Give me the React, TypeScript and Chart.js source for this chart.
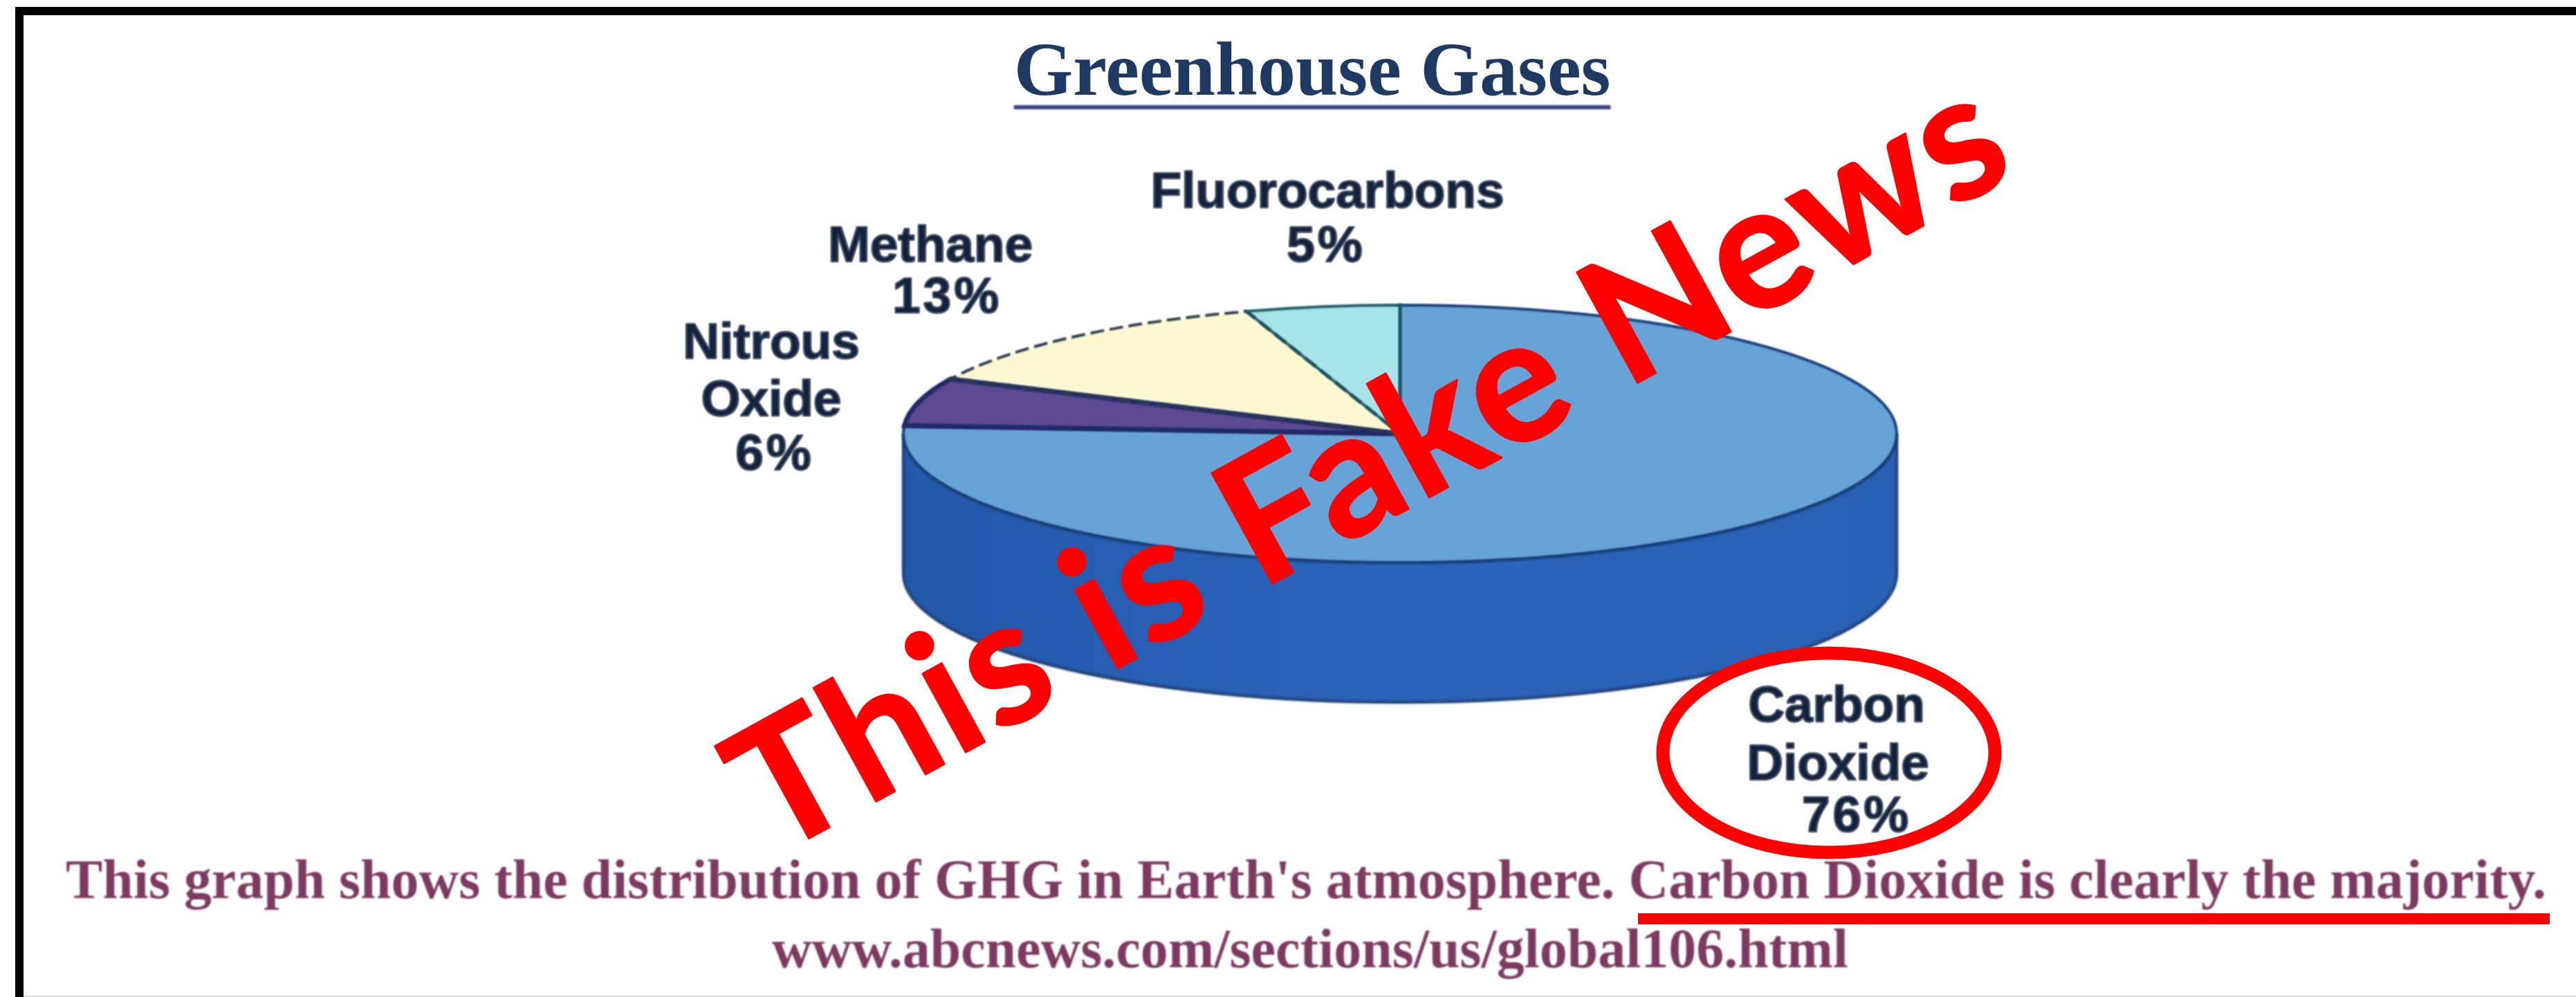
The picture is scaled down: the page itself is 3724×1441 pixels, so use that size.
import React, { useEffect, useRef } from "react";
import { Chart, registerables } from "chart.js";

Chart.register(...registerables);

const chartTitle = "Greenhouse Gases";
const categories = ["Carbon Dioxide", "Nitrous Oxide", "Methane", "Fluorocarbons"];
const shares = [76, 6, 13, 5];
const sliceColors = ["#68a3d7", "#5d4893", "#fbf8d2", "#a6e4e9"];
const categoryLines = [["Carbon", "Dioxide"], ["Nitrous", "Oxide"], ["Methane"], ["Fluorocarbons"]];
const captionOne = "This graph shows the distribution of GHG in Earth's atmosphere. Carbon Dioxide is clearly the majority.";
const captionTwo = "www.abcnews.com/sections/us/global106.html";
const stampText = "This is Fake News";

const W = 3724;
const H = 1441;
const PIE = { cx: 2024, cy: 627, rx: 718, ry: 186, depth: 202 };
// for every category: [x, baseline] of each name line, then of the percentage
const labelAnchors = [
  [[2655, 1043], [2657, 1127], [2684, 1202]],
  [[1115, 518], [1115, 601], [1120, 679]],
  [[1345, 378], [1369, 452]],
  [[1919, 300], [1917, 378]],
];

const applyPie = (ctx: any, a: any) => {
  ctx.translate(PIE.cx, PIE.cy);
  ctx.scale(PIE.rx / a.outerRadius, PIE.ry / a.outerRadius);
  ctx.translate(-a.x, -a.y);
};

const piePlugin = {
  id: "flatPie",
  beforeDatasetsDraw(chart: any) {
    const ctx = chart.ctx;
    ctx.save();
    ctx.filter = "blur(1.5px)";
    const g = ctx.createLinearGradient(PIE.cx - PIE.rx, 0, PIE.cx + PIE.rx, 0);
    g.addColorStop(0, "#2358aa");
    g.addColorStop(0.5, "#2a63ba");
    g.addColorStop(1, "#2860b3");
    ctx.beginPath();
    ctx.ellipse(PIE.cx, PIE.cy, PIE.rx, PIE.ry, 0, 0, Math.PI, false);
    ctx.lineTo(PIE.cx - PIE.rx, PIE.cy + PIE.depth);
    ctx.ellipse(PIE.cx, PIE.cy + PIE.depth, PIE.rx, PIE.ry, 0, Math.PI, 0, true);
    ctx.closePath();
    ctx.fillStyle = g;
    ctx.fill();
    ctx.strokeStyle = "#12366f";
    ctx.lineWidth = 4;
    ctx.stroke();
    ctx.restore();

    const first = chart.getDatasetMeta(0).data[0];
    ctx.save();
    ctx.filter = "blur(1.5px)";
    applyPie(ctx, first);
  },
  afterDatasetsDraw(chart: any) {
    const ctx = chart.ctx;
    ctx.restore();
    ctx.save();
    ctx.filter = "blur(1.2px)";
    const arcs = chart.getDatasetMeta(0).data;
    const styles = [
      { color: "#173f78", width: 4, dash: [] },
      { color: "#1f2a66", width: 7, dash: [] },
      { color: "#2b3d4c", width: 4, dash: [20, 8] },
      { color: "#1d5a66", width: 4, dash: [] },
    ];
    arcs.forEach((a: any, i: number) => {
      ctx.save();
      applyPie(ctx, a);
      ctx.beginPath();
      ctx.moveTo(a.x, a.y);
      ctx.arc(a.x, a.y, a.outerRadius, a.startAngle, a.endAngle);
      ctx.closePath();
      ctx.restore();
      ctx.strokeStyle = styles[i].color;
      ctx.lineWidth = styles[i].width;
      ctx.setLineDash(styles[i].dash);
      ctx.stroke();
    });
    ctx.restore();
  },
  afterDraw(chart: any) {
    const ctx = chart.ctx;
    ctx.save();
    ctx.filter = "blur(1.3px)";
    // title underline
    ctx.font = 'bold 110px "Liberation Serif"';
    const tw = ctx.measureText(chartTitle).width;
    ctx.fillStyle = "#3f4382";
    ctx.fillRect(1897 - tw / 2, 152, tw, 6);

    // slice labels
    ctx.fillStyle = "#14233d";
    ctx.strokeStyle = "#14233d";
    ctx.lineWidth = 1.5;
    ctx.textAlign = "center";
    ctx.textBaseline = "alphabetic";
    categories.forEach((_, i) => {
      const lines = [...categoryLines[i], `${shares[i]}%`];
      lines.forEach((t, j) => {
        const [x, y] = labelAnchors[i][j];
        ctx.font = 'bold 73px "Liberation Sans"';
        ctx.letterSpacing = j === lines.length - 1 ? "4px" : "0px";
        ctx.fillText(t, x, y);
        ctx.strokeText(t, x, y);
      });
    });
    ctx.letterSpacing = "0px";

    // captions
    ctx.fillStyle = "#7d3a60";
    ctx.font = 'bold 80px "Liberation Serif"';
    ctx.fillText(captionOne, 1888, 1298, 3586);
    ctx.fillText(captionTwo, 1894, 1398, 1556);
    ctx.restore();

    // frame
    ctx.save();
    ctx.fillStyle = "#000000";
    ctx.fillRect(22, 10, W - 22, 12);
    ctx.fillRect(22, 10, 12, H - 10);
    ctx.fillStyle = "#d9d9d9";
    ctx.fillRect(34, H - 2, W - 34, 2);

    // red annotations
    ctx.fillStyle = "#ff0000";
    ctx.fillRect(2368, 1320, 1318, 16);
    ctx.strokeStyle = "#ff0000";
    ctx.lineWidth = 19;
    ctx.beginPath();
    ctx.ellipse(2644, 1088, 240, 144, 0, 0, Math.PI * 2);
    ctx.stroke();
    ctx.translate(1118, 1240);
    ctx.rotate((-28.8 * Math.PI) / 180);
    ctx.font = "bold 252px Lato";
    ctx.textAlign = "left";
    ctx.textBaseline = "alphabetic";
    ctx.letterSpacing = "5px";
    ctx.lineWidth = 3;
    ctx.lineJoin = "round";
    ctx.fillText(stampText, 0, 0);
    ctx.strokeText(stampText, 0, 0);
    ctx.restore();
  },
};

export default function App() {
  const ref = useRef<HTMLCanvasElement | null>(null);
  useEffect(() => {
    document.body.style.margin = "0";
    const chart = new Chart(ref.current as HTMLCanvasElement, {
      type: "pie",
      data: {
        labels: categories,
        datasets: [{ data: shares, backgroundColor: sliceColors, borderWidth: 0, clip: false as any }],
      },
      options: {
        responsive: false,
        animation: false,
        devicePixelRatio: 1,
        layout: { padding: { left: 70, right: 0, top: 0, bottom: 0 } },
        events: [],
        plugins: {
          legend: { display: false },
          tooltip: { enabled: false },
          title: {
            display: true,
            text: chartTitle,
            color: "#1f3a62",
            font: { family: '"Liberation Serif"', size: 110, weight: "bold", lineHeight: 1.2 },
            padding: { top: 43, bottom: 0 },
          },
        },
      },
      plugins: [piePlugin],
    });
    return () => chart.destroy();
  }, []);
  return (
    <canvas
      ref={ref}
      width={W}
      height={H}
      style={{ position: "absolute", left: 0, top: 0, width: W, height: H, display: "block" }}
    />
  );
}
